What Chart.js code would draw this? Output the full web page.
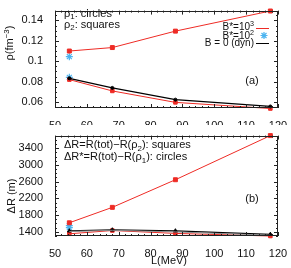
<!DOCTYPE html>
<html>
<head>
<meta charset="utf-8">
<script src="https://cdn.jsdelivr.net/npm/chart.js@4.4.1/dist/chart.umd.min.js"></script>
<style>
  body { margin: 0; background: #fff; }
  canvas { position: absolute; left: 0; }
  #top { top: 0; }
  #bot { top: 125px; }
</style>
</head>
<body>
<canvas id="top" width="291" height="125"></canvas>
<canvas id="bot" width="291" height="143"></canvas>
<script>
// L (MeV) of the four models
var L = [54.5, 68, 87.8, 117.6];
var Lstar = [54.5, 54.5];

// panel (a): density
var rhoB3sq = [0.110, 0.1134, 0.1295, 0.1492];
var rhoB3ci = [0.082, 0.0709, 0.0597, 0.0537];
var rhoB0 = [0.0833, 0.0739, 0.0624, 0.0557];
var rhoB2 = [0.1045, 0.0842];

// panel (b): delta R
var dRB3sq = [1616, 1985, 2645, 3700];
var dRB3ci = [1353, 1431, 1362, 1300];
var dRB0 = [1422, 1445, 1422, 1339];
var dRB0ci = [1408, 1436, 1398, 1318];
var dRB2 = [1547, 1500];

var xTicks = [50, 60, 70, 80, 90, 100, 110, 120];
var rhoTicks = [0.06, 0.08, 0.1, 0.12, 0.14];
var dRTicks = [1400, 1800, 2200, 2600, 3000, 3400];

var FONT = "'Liberation Sans', Arial, sans-serif";
var RED = '#ee2b25';
var CYAN = '#4cb4f0';

function pts(xs, ys) {
    var out = [];
    for (var i = 0; i < ys.length; i++) out.push({ x: xs[i], y: ys[i] });
    return out;
}

// text with sub / superscript pieces
function rich(ctx, x, y, parts, size, align) {
    var w = 0;
    for (var i = 0; i < parts.length; i++) {
        var s = parts[i][1] == 'n' ? size : size * 0.72;
        ctx.font = s + 'px ' + FONT;
        w += ctx.measureText(parts[i][0]).width;
    }
    if (align == 'right') x -= w;
    if (align == 'center') x -= w / 2;
    for (var i = 0; i < parts.length; i++) {
        var mode = parts[i][1];
        var s = mode == 'n' ? size : size * 0.72;
        var dy = mode == 'sub' ? size * 0.25 : (mode == 'sup' ? -size * 0.4 : 0);
        ctx.font = s + 'px ' + FONT;
        ctx.fillText(parts[i][0], x, y + dy);
        x += ctx.measureText(parts[i][0]).width;
    }
}

var frame = {
    id: 'frame',
    afterDatasetsDraw: function(chart, args, o) {
        var ctx = chart.ctx, a = chart.chartArea, x = chart.scales.x, y = chart.scales.y;
        ctx.save();
        ctx.strokeStyle = '#222';
        ctx.lineWidth = 1;
        ctx.strokeRect(Math.round(a.left) + 0.5, Math.round(a.top) + 0.5,
            Math.round(a.right - a.left) - 1, Math.round(a.bottom - a.top) - 1);
        ctx.beginPath();
        for (var v = 50; v <= 120; v += 2) {
            var px = Math.round(x.getPixelForValue(v)) + 0.5;
            var len = v % 10 == 0 ? 4 : 2;
            ctx.moveTo(px, a.bottom); ctx.lineTo(px, a.bottom - len);
            ctx.moveTo(px, a.top); ctx.lineTo(px, a.top + len);
        }
        for (var k = -6; k <= 40; k++) {
            var val = o.y0 + k * o.ym;
            if (val < y.min || val > y.max) continue;
            var py = Math.round(y.getPixelForValue(val)) + 0.5;
            var ln = k % o.per == 0 ? 4 : 2;
            ctx.moveTo(a.left, py); ctx.lineTo(a.left + ln, py);
            ctx.moveTo(a.right, py); ctx.lineTo(a.right - ln, py);
        }
        ctx.stroke();
        ctx.restore();
    },
    afterDraw: function(chart, args, o) {
        var ctx = chart.ctx;
        ctx.save();
        ctx.fillStyle = '#111';
        ctx.textBaseline = 'alphabetic';
        o.draw(ctx);
        ctx.restore();
    }
};

function makeChart(id, yMin, yMax, yTicks, padTop, xHeight, datasets, frameOpts) {
    var ctx = document.getElementById(id).getContext('2d');
    return new Chart(ctx, {
        type: 'line',
        data: { datasets: datasets },
        plugins: [frame],
        options: {
            responsive: false,
            animation: false,
            devicePixelRatio: 1,
            layout: { padding: { left: 0, right: 13, top: padTop, bottom: 0 } },
            plugins: { legend: { display: false }, tooltip: { enabled: false }, frame: frameOpts },
            elements: { line: { tension: 0 } },
            scales: {
                x: {
                    type: 'linear', min: 50, max: 120,
                    grid: { display: false }, border: { display: false },
                    afterBuildTicks: function(s) { s.ticks = xTicks.map(function(v) { return { value: v }; }); },
                    afterFit: function(s) { s.height = xHeight; },
                    ticks: { color: '#111', padding: 3, maxRotation: 0, autoSkip: false, font: { family: FONT, size: 11 } }
                },
                y: {
                    type: 'linear', min: yMin, max: yMax,
                    grid: { display: false }, border: { display: false },
                    afterBuildTicks: function(s) { s.ticks = yTicks.map(function(v) { return { value: v }; }); },
                    afterFit: function(s) { s.width = 55; },
                    ticks: {
                        color: '#111', padding: 4, autoSkip: false, font: { family: FONT, size: 11 },
                        callback: function(v) { return String(+v.toFixed(3)); }
                    }
                }
            }
        }
    });
}

function line(data, color, width, style, r) {
    return {
        data: data, borderColor: color, backgroundColor: color, borderWidth: width,
        pointStyle: style, pointRadius: r, pointBorderWidth: 1, clip: false, showLine: true
    };
}

function stars(data) {
    return {
        data: data, borderColor: CYAN, backgroundColor: CYAN, showLine: false,
        pointStyle: 'star', pointRadius: 3.5, pointBorderWidth: 1.2, clip: false
    };
}

// panel (a)
makeChart('top', 0.0542, 0.1496, rhoTicks, 3, 17, [
    line(pts(L, rhoB0), '#000', 1.2, 'circle', 1.5),
    line(pts(L, rhoB3ci), RED, 1, 'rect', 2.5),
    line(pts(L, rhoB3sq), RED, 1, 'rect', 2.8),
    stars(pts(Lstar, rhoB2))
], {
    y0: 0.06, ym: 0.005, per: 4,
    draw: function(ctx) {
        rich(ctx, 64, 16.5, [['ρ', 'n'], ['1', 'sub'], [': circles', 'n']], 11, 'left');
        rich(ctx, 64, 27.5, [['ρ', 'n'], ['2', 'sub'], [': squares', 'n']], 11, 'left');
        rich(ctx, 252, 84, [['(a)', 'n']], 11, 'center');
        rich(ctx, 254, 30, [['B*=10', 'n'], ['3', 'sup']], 10, 'right');
        rich(ctx, 254, 38.5, [['B*=10', 'n'], ['2', 'sup']], 10, 'right');
        rich(ctx, 254, 46, [['B = 0 (dyn)', 'n']], 10, 'right');
        ctx.lineWidth = 1;
        ctx.strokeStyle = RED;
        ctx.beginPath(); ctx.moveTo(256, 28.5); ctx.lineTo(269, 28.5); ctx.stroke();
        ctx.strokeStyle = '#000';
        ctx.beginPath(); ctx.moveTo(256, 43.5); ctx.lineTo(269, 43.5); ctx.stroke();
        ctx.strokeStyle = CYAN;
        ctx.lineWidth = 1.2;
        ctx.beginPath();
        ctx.moveTo(260.5, 35.5); ctx.lineTo(267.5, 35.5);
        ctx.moveTo(264, 32); ctx.lineTo(264, 39);
        ctx.moveTo(261.5, 33); ctx.lineTo(266.5, 38);
        ctx.moveTo(266.5, 33); ctx.lineTo(261.5, 38);
        ctx.stroke();
        ctx.save();
        ctx.translate(13, 43);
        ctx.rotate(-Math.PI / 2);
        rich(ctx, 0, 0, [['ρ(fm', 'n'], ['−3', 'sup'], [')', 'n']], 11, 'center');
        ctx.restore();
    }
});

// panel (b)
makeChart('bot', 1300, 3700, dRTicks, 7, 32, [
    line(pts(L, dRB0ci), '#888', 1, 'circle', 0),
    line(pts(L, dRB0), '#000', 1.2, 'triangle', 2.2),
    line(pts(L, dRB3ci), RED, 1, 'rect', 2.5),
    line(pts(L, dRB3sq), RED, 1, 'rect', 2.8),
    stars(pts(Lstar, dRB2))
], {
    y0: 1400, ym: 100, per: 4,
    draw: function(ctx) {
        rich(ctx, 64, 23, [['ΔR=R(tot)−R(ρ', 'n'], ['2', 'sub'], ['): squares', 'n']], 11, 'left');
        rich(ctx, 64, 35, [['ΔR*=R(tot)−R(ρ', 'n'], ['1', 'sub'], ['): circles', 'n']], 11, 'left');
        rich(ctx, 252, 77, [['(b)', 'n']], 11, 'center');
        rich(ctx, 169, 139, [['L(MeV)', 'n']], 11, 'center');
        ctx.save();
        ctx.translate(15, 71);
        ctx.rotate(-Math.PI / 2);
        rich(ctx, 0, 0, [['ΔR (m)', 'n']], 11, 'center');
        ctx.restore();
    }
});
</script>
</body>
</html>
